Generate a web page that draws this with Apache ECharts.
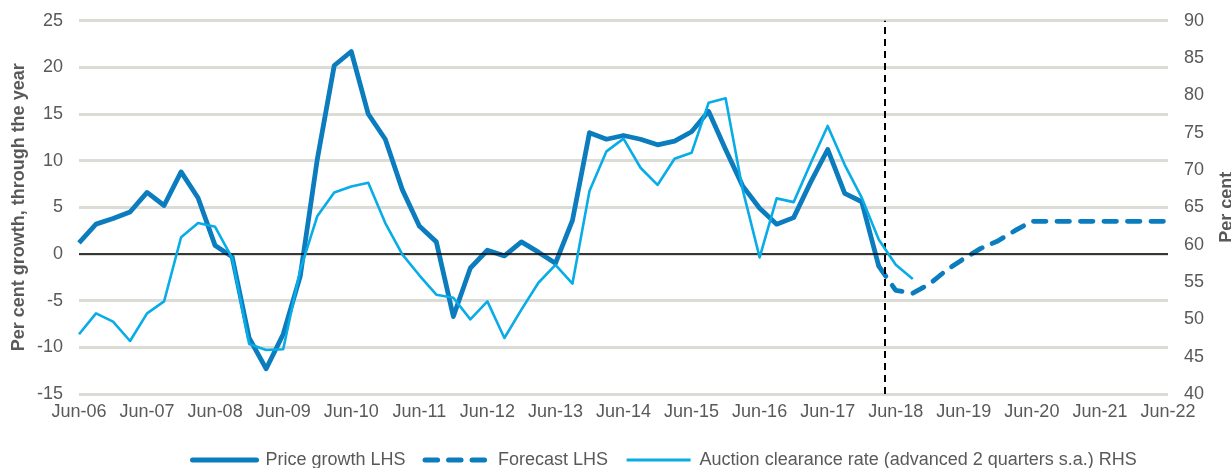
<!DOCTYPE html>
<html>
<head>
<meta charset="utf-8">
<script src="https://cdn.jsdelivr.net/npm/echarts@6/dist/echarts.min.js"></script>
<style>
html,body{margin:0;padding:0;background:#fff;}
#chart{width:1231px;height:468px;}
</style>
</head>
<body>
<div id="chart"></div>
<script>
// Quarterly, index 0 = Jun-06 ... index 64 = Jun-22
const tickLabels = ['Jun-06','Jun-07','Jun-08','Jun-09','Jun-10','Jun-11','Jun-12','Jun-13','Jun-14','Jun-15','Jun-16','Jun-17','Jun-18','Jun-19','Jun-20','Jun-21','Jun-22'];

// Price growth LHS (Jun-06 .. Mar-18)
const priceGrowth = [1.2,3.2,3.8,4.5,6.6,5.2,8.8,6.0,0.9,-0.3,
  -9.0,-12.3,-8.6,-2.4,10.1,20.2,21.7,15.0,12.3,6.9,
  3.0,1.3,-6.7,-1.5,0.4,-0.2,1.3,0.2,-1.0,3.6,
  13.0,12.3,12.7,12.3,11.7,12.1,13.1,15.3,11.2,7.3,
  4.9,3.2,3.9,7.7,11.2,6.5,5.6,-1.3];

// Forecast LHS (Mar-18 .. Jun-22)
const forecastStart = 47;
const forecast = [-1.3,-3.9,-4.2,-3.2,-1.7,-0.5,0.6,1.4,2.5,3.5,3.5,3.5,3.5,3.5,3.5,3.5,3.5,3.5];

// Auction clearance rate RHS (Jun-06 .. Sep-18)
const auction = [48.0,50.8,49.7,47.1,50.8,52.4,61.0,62.9,62.4,58.2,
  46.7,45.9,46.0,56.6,63.8,67.0,67.8,68.3,62.9,58.7,
  55.9,53.3,52.9,50.0,52.4,47.5,51.3,54.9,57.3,54.8,
  67.2,72.5,74.2,70.3,68.0,71.5,72.3,79.0,79.6,67.4,
  58.3,66.2,65.7,70.9,75.9,70.7,66.3,60.7,57.3,55.4];

const forecastMarker = 47.35;

const seriesNames = ['Price growth LHS','Forecast LHS','Auction clearance rate (advanced 2 quarters s.a.) RHS'];

const priceData = priceGrowth.map((v,i)=>[i,v]);
const forecastData = forecast.map((v,i)=>[forecastStart+i,v]);
const auctionData = auction.map((v,i)=>[i,v]);

const FONT = 'Liberation Sans, Arial, sans-serif';
const TXT = '#595959';
const DARK = '#0B7DBE';
const LIGHT = '#08ACE6';
const HIDE = {color:'rgba(0,0,0,0)', borderWidth:0, opacity:0};

const chart = echarts.init(document.getElementById('chart'), null, {renderer:'canvas'});
chart.setOption({
  animation:false,
  textStyle:{fontFamily:FONT},
  grid:{left:79, right:63, top:20.7, bottom:74, containLabel:false, outerBoundsMode:'none'},
  legend:{
    left:185, top:446, itemWidth:64, itemHeight:20, itemGap:17,
    textStyle:{fontSize:18, color:TXT, fontFamily:FONT, padding:[0,0,0,4]},
    data:[
      {name:seriesNames[0], itemStyle:HIDE, lineStyle:{color:DARK, width:5, type:'solid', cap:'round'}},
      {name:seriesNames[1], itemStyle:HIDE, lineStyle:{color:DARK, width:5, type:[12.5,11], cap:'round'}},
      {name:seriesNames[2], itemStyle:HIDE, lineStyle:{color:LIGHT, width:3, type:'solid'}}
    ]
  },
  xAxis:{
    type:'value', min:0, max:64, interval:4,
    axisLine:{show:false}, axisTick:{show:false}, splitLine:{show:false},
    axisLabel:{fontSize:18, color:TXT, margin:9, fontFamily:FONT,
      formatter:(v)=>tickLabels[Math.round(v/4)]}
  },
  yAxis:[{
    type:'value', min:-15, max:25, interval:5,
    name:'Per cent growth, through the year', nameLocation:'middle', nameGap:51, nameMoveOverlap:false,
    nameTextStyle:{fontSize:18, fontWeight:'bold', color:TXT, fontFamily:FONT},
    axisLine:{show:false}, axisTick:{show:false},
    axisLabel:{fontSize:18, color:TXT, margin:16, fontFamily:FONT},
    splitLine:{lineStyle:{color:'#DCDCD6', width:3}}
  },{
    type:'value', min:40, max:90, interval:5, position:'right',
    name:'Per cent', nameLocation:'middle', nameGap:50, nameMoveOverlap:false,
    nameTextStyle:{fontSize:18, fontWeight:'bold', color:TXT, fontFamily:FONT},
    axisLine:{show:false}, axisTick:{show:false},
    axisLabel:{fontSize:18, color:TXT, margin:16, fontFamily:FONT},
    splitLine:{show:false}
  }],
  series:[{
    name:seriesNames[0], type:'line', data:priceData, symbol:'none', z:4,
    lineStyle:{color:DARK, width:4.8, join:'round'}, itemStyle:{color:DARK},
    markLine:{
      silent:true, symbol:'none', label:{show:false},
      data:[
        {yAxis:0, lineStyle:{color:'#000', width:1.5, type:'solid'}},
        {xAxis:forecastMarker, lineStyle:{color:'#000', width:2, type:[7,5]}}
      ]
    }
  },{
    name:seriesNames[1], type:'line', data:forecastData, symbol:'none', z:4,
    lineStyle:{color:DARK, width:4.8, type:[12.5,11], cap:'round'}, itemStyle:{color:DARK}
  },{
    name:seriesNames[2], type:'line', yAxisIndex:1, data:auctionData, symbol:'none', z:5,
    lineStyle:{color:LIGHT, width:2.6, join:'round'}, itemStyle:{color:LIGHT}
  }]
});
</script>
</body>
</html>
